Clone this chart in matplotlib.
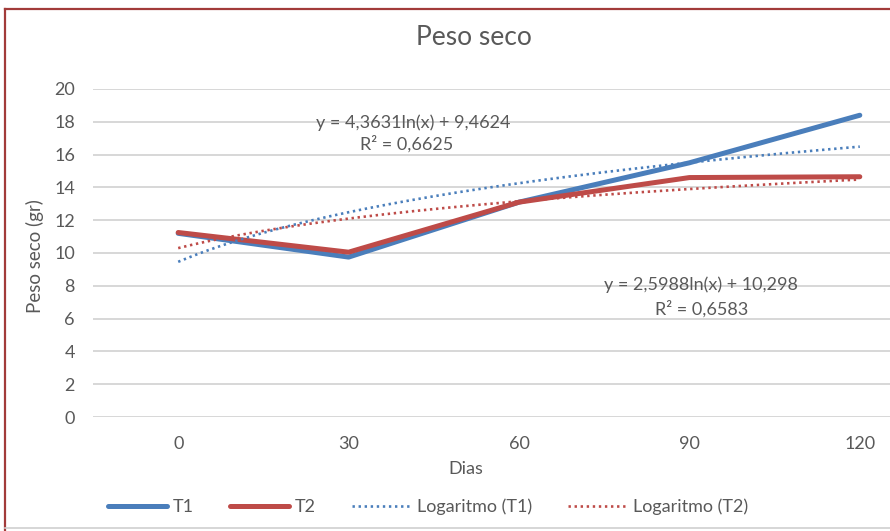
import numpy as np
import matplotlib
matplotlib.use("Agg")
import matplotlib.pyplot as plt
from matplotlib import font_manager
from matplotlib.lines import Line2D

# --- data -------------------------------------------------------------
dias = ["0", "30", "60", "90", "120"]
t1 = [11.2, 9.75, 13.1, 15.5, 18.4]
t2 = [11.25, 10.05, 13.1, 14.6, 14.65]

# logarithmic trend lines (x = category index 1..n)
t1_coef = (4.3631, 9.4624)
t2_coef = (2.5988, 10.298)
t1_r2 = 0.6625
t2_r2 = 0.6583

yticks = [0, 2, 4, 6, 8, 10, 12, 14, 16, 18, 20]

# --- fonts --------------------------------------------------------------
def pick_font(names):
    for n in names:
        try:
            font_manager.findfont(n, fallback_to_default=False)
            return n
        except Exception:
            continue
    return "DejaVu Sans"

FONT = pick_font(["Lato", "Open Sans", "DejaVu Sans"])
plt.rcParams["font.family"] = [FONT, "DejaVu Sans"]

TEXT = "#595959"
BLUE = "#4A7EBB"
RED = "#BE4B48"
GRID = "#D4D4D4"
FS = 13
DOT = (0, (0.9, 1.4))

fig = plt.figure(figsize=(8.9, 5.31), dpi=100)
W, H = 890, 531

def fx(px):
    return px / W

def fy(py):
    return 1 - py / H

ax = fig.add_axes([fx(93), fy(417), fx(945) - fx(93), fy(89) - fy(417)])

x = np.arange(len(dias))
ax.plot(x, t1, color=BLUE, lw=3.6, solid_capstyle="round", zorder=3)
ax.plot(x, t2, color=RED, lw=3.6, solid_capstyle="round", zorder=3)

xs = np.linspace(1, len(dias), 200)
ax.plot(xs - 1, t1_coef[0] * np.log(xs) + t1_coef[1], color=BLUE, lw=1.9,
        linestyle=DOT, zorder=4)
ax.plot(xs - 1, t2_coef[0] * np.log(xs) + t2_coef[1], color=RED, lw=1.9,
        linestyle=DOT, zorder=4)

ax.set_xlim(-0.5, len(dias) - 0.5)
ax.set_ylim(0, 20)
ax.set_yticks(yticks)
ax.set_yticklabels([str(v) for v in yticks])
ax.set_xticks(x)
ax.set_xticklabels(dias)
ax.grid(axis="y", color=GRID, lw=1.3)
ax.set_axisbelow(True)
for s in ax.spines.values():
    s.set_visible(False)
ax.tick_params(axis="both", length=0, labelsize=FS, colors=TEXT, labelcolor=TEXT)
ax.tick_params(axis="y", pad=13)
ax.tick_params(axis="x", pad=14)

def fmt(v, nd):
    return f"{v:.{nd}f}".replace(".", ",")

ax.text(1.38, 17.95, f"y = {fmt(t1_coef[0], 4)}ln(x) + {fmt(t1_coef[1], 4)}",
        ha="center", va="center", fontsize=FS, color=TEXT)
ax.text(1.34, 16.65, f"R² = {fmt(t1_r2, 4)}",
        ha="center", va="center", fontsize=FS, color=TEXT)
ax.text(3.07, 8.05, f"y = {fmt(t2_coef[0], 4)}ln(x) + {fmt(t2_coef[1], 3)}",
        ha="center", va="center", fontsize=FS, color=TEXT)
ax.text(3.07, 6.6, f"R² = {fmt(t2_r2, 4)}",
        ha="center", va="center", fontsize=FS, color=TEXT)

fig.text(fx(474), fy(37), "Peso seco", ha="center", va="center",
         fontsize=19, color=TEXT)
fig.text(fx(35), fy(256), "Peso seco (gr)", ha="center", va="center",
         rotation=90, fontsize=FS + 0.5, color=TEXT)
fig.text(fx(466), fy(469), "Dias", ha="center", va="center",
         fontsize=FS, color=TEXT)

handles = [
    Line2D([], [], color=BLUE, lw=3.6, solid_capstyle="round"),
    Line2D([], [], color=RED, lw=3.6, solid_capstyle="round"),
    Line2D([], [], color=BLUE, lw=1.9, linestyle=DOT),
    Line2D([], [], color=RED, lw=1.9, linestyle=DOT),
]
labels = ["T1", "T2", "Logaritmo (T1)", "Logaritmo (T2)"]
fig.legend(handles, labels, loc="center", bbox_to_anchor=(fx(428), fy(507)),
           ncol=4, frameon=False, fontsize=FS, handlelength=3.3,
           handletextpad=0.3, columnspacing=2.0, labelcolor=TEXT,
           borderaxespad=0, borderpad=0)

# chart border
fig.add_artist(Line2D([fx(5), fx(5)], [fy(9), fy(531)], color="#A23B3A", lw=1.6))
fig.add_artist(Line2D([fx(5), 1], [fy(9), fy(9)], color="#A23B3A", lw=1.6))
fig.add_artist(Line2D([fx(5), 1], [fy(528), fy(528)], color="#D0D0D0", lw=1.2))

fig.savefig("out.png", dpi=100)
